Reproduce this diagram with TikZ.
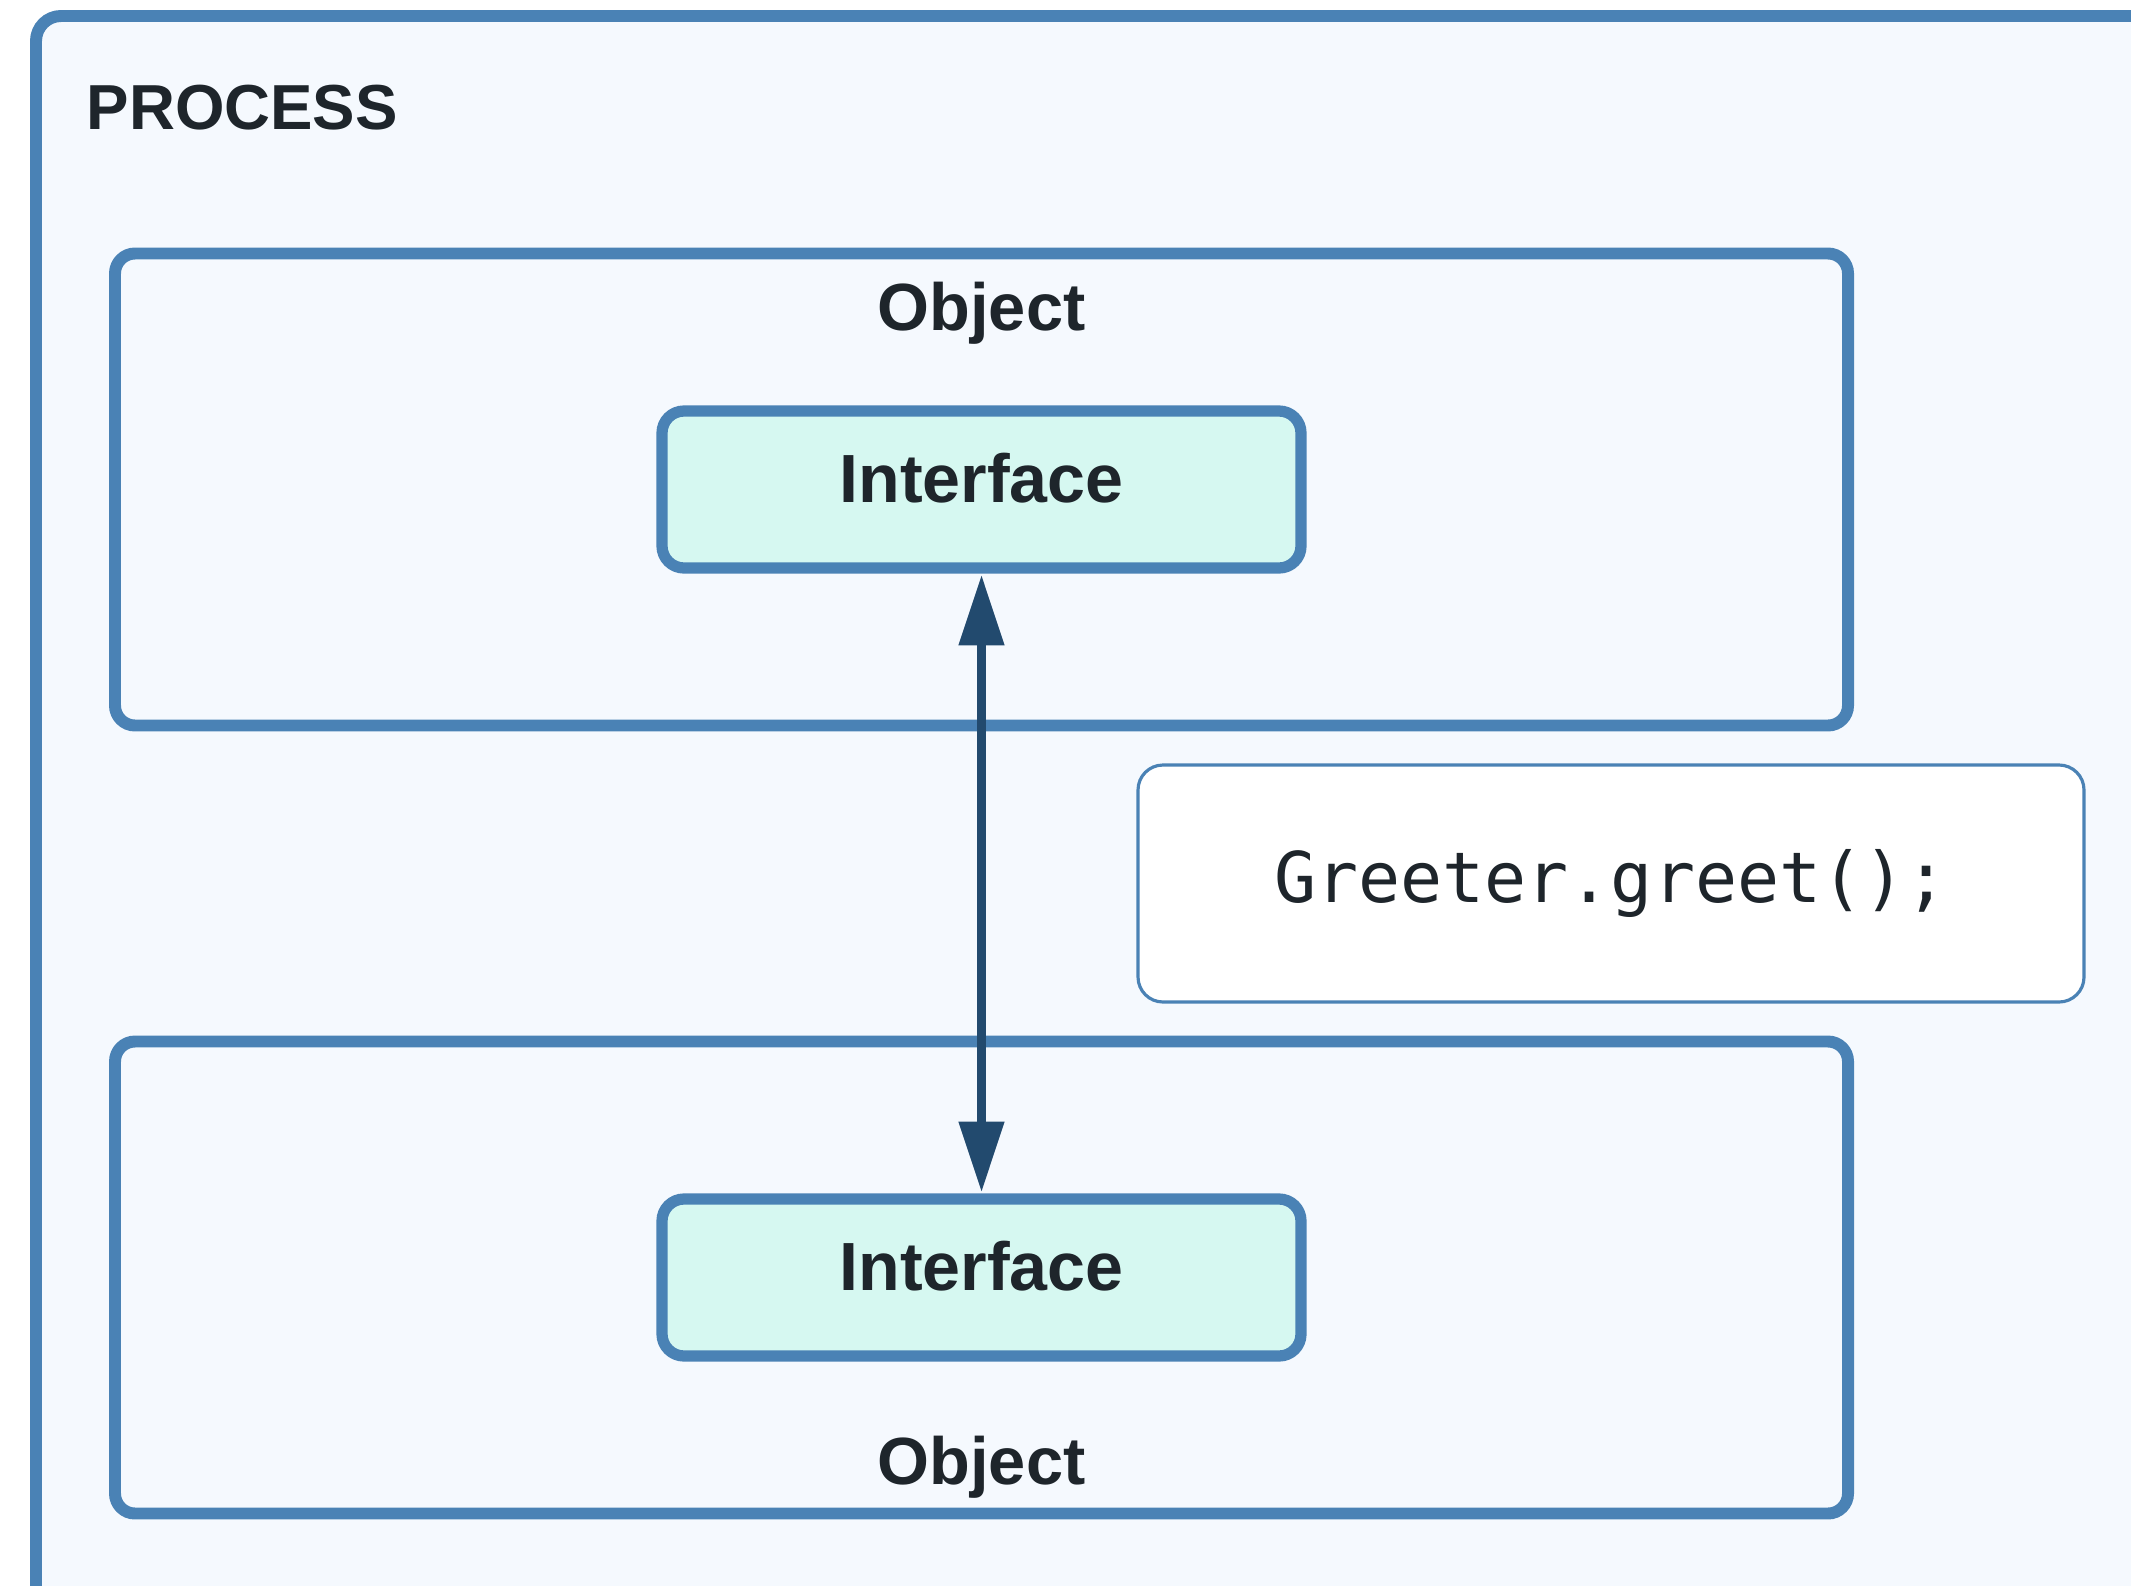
\documentclass[tikz,border=0pt]{standalone}
\usepackage{fontspec}
\setmainfont{Liberation Sans}
\newfontfamily\codefont{DejaVu Sans Mono}
\usepackage{tikz}
\usetikzlibrary{shapes,arrows.meta,positioning,calc}

\definecolor{boxblue}{HTML}{4A82B5}
\definecolor{procbg}{HTML}{F5F9FE}
\definecolor{ifacefill}{HTML}{D6F8F1}
\definecolor{arrownavy}{HTML}{224A6E}
\definecolor{textdark}{HTML}{1E252B}

\begin{document}
\begin{tikzpicture}[auto, node distance=3.16cm, >={Triangle[width=12.5pt,length=20pt]}]
\tikzset{
object/.style   = {draw=boxblue, line width=3.4pt, rounded corners=0.2cm, fill=procbg, shape=rectangle, outer sep=0pt, inner sep=0pt, minimum width=17.33cm, minimum height=4.72cm},
iface/.style    = {draw=boxblue, line width=3.2pt, rounded corners=0.22cm, fill=ifacefill, shape=rectangle, outer sep=0pt, minimum width=6.39cm, minimum height=1.57cm, text depth=0.24cm, font=\fontsize{19.4}{23}\selectfont\bfseries, text=textdark},
codebox/.style  = {draw=boxblue, line width=0.9pt, rounded corners=0.25cm, fill=white, shape=rectangle, outer sep=0pt, minimum width=9.46cm, minimum height=2.37cm, font=\codefont\fontsize{19.9}{23}\selectfont, text=textdark},
title/.style    = {inner sep=0pt, font=\fontsize{19}{23}\selectfont\bfseries, text=textdark},
}
    \useasboundingbox (0,0) rectangle (21.31,-15.85);
    \clip (0,0) rectangle (21.31,-15.85);

    % Process frame
    \draw [draw=boxblue, line width=3.4pt, fill=procbg, rounded corners=0.25cm] (0.36,-0.16) rectangle (22.6,-16.3);
    \node [title, anchor=base west, font=\fontsize{18.1}{22}\selectfont\bfseries] (process) at (0.86,-1.30) {PROCESS};

    % Main nodes
    \node [object]                      (object1)   at (9.815,-4.895)   {};
    \node [object, below=of object1]    (object2)                       {};
    \node [iface]                       (iface1)    at (object1)        {Interface};
    \node [iface]                       (iface2)    at (object2)        {Interface};
    \node [title, anchor=base]          (objlabel1) at ([yshift=-0.77cm]object1.north)  {Object};
    \node [title, anchor=base]          (objlabel2) at ([yshift=0.29cm]object2.south)   {Object};
    \node [codebox]                     (call)      at (16.11,-8.835)   {Greeter.greet();};

    % Main edges
    \draw [<->, arrownavy, line width=2.3pt, shorten <=2pt, shorten >=2pt]  (iface2.north) -- (iface1.south);

\end{tikzpicture}
\end{document}
